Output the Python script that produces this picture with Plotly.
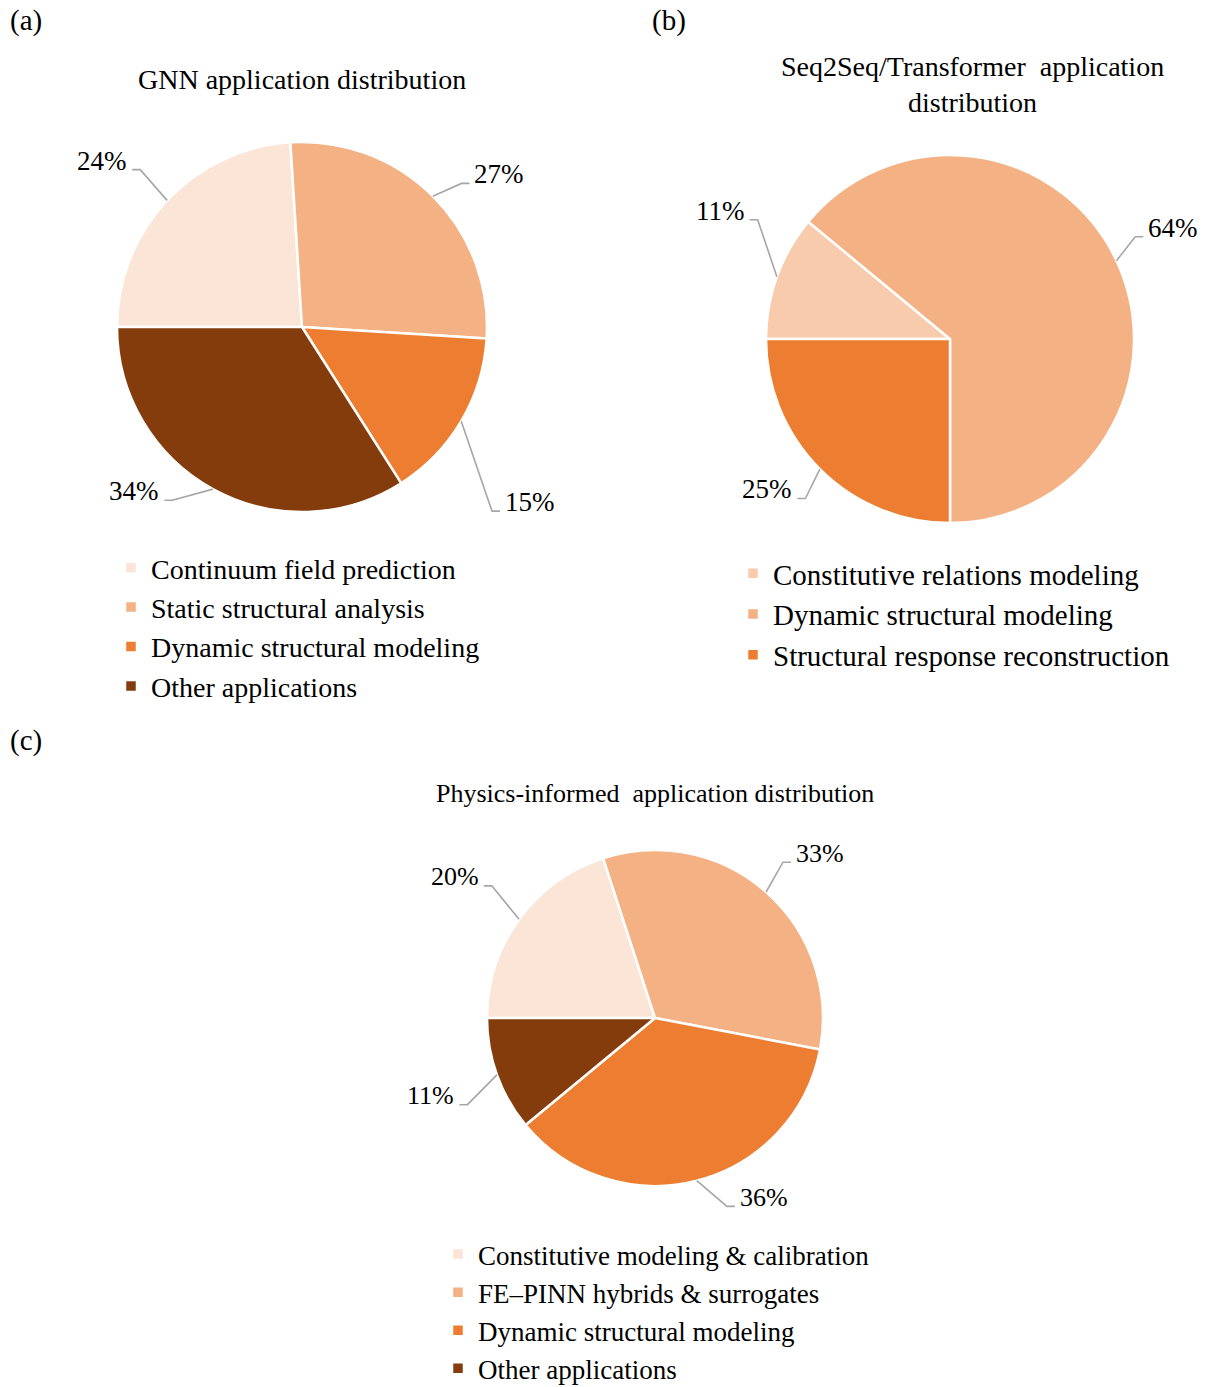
import math
import plotly.graph_objects as go

W, H = 1205, 1387
FONT = "Liberation Serif, Times New Roman, serif"

# ---------------- data ----------------
gnn_labels = ["Continuum field prediction", "Static structural analysis",
              "Dynamic structural modeling", "Other applications"]
gnn_values = [24, 27, 15, 34]

seq_labels = ["Constitutive relations modeling", "Dynamic structural modeling",
              "Structural response reconstruction"]
seq_values = [11, 64, 25]

pinn_labels = ["Constitutive modeling & calibration", "FE\u2013PINN hybrids & surrogates",
               "Dynamic structural modeling", "Other applications"]
pinn_values = [20, 33, 36, 11]

titles = ["GNN application distribution",
          "Seq2Seq/Transformer  application<br>distribution",
          "Physics-informed  application distribution"]
panel_tags = ["(a)", "(b)", "(c)"]

# ---------------- styles ----------------
col4 = ["#FBE5D6", "#F4B183", "#ED7D31", "#843C0C"]
col3 = ["#F8CBAD", "#F4B183", "#ED7D31"]

panels = [
    dict(labels=gnn_labels, values=gnn_values, colors=col4, cx=302, cy=327, r=185,
         elbow=[(1, 1.22), (3, 1.16), (13.5, 1.43), (8, 1.17)],
         lab_font=27, legend="legend", group="ga", leg_x=111, leg_y=543, leg_font=28,
         title_x=302, title_y=79, title_font=28, tag_x=8, tag_y=20),
    dict(labels=seq_labels, values=seq_values, colors=col3, cx=950, cy=339, r=184,
         elbow=[(12, 1.23), (-3.7, 1.15), (-2.8, 1.17)],
         lab_font=27, legend="legend2", group="gb", leg_x=733, leg_y=548, leg_font=29,
         title_x=972, title_y=84, title_font=28, tag_x=650, tag_y=20),
    dict(labels=pinn_labels, values=pinn_values, colors=col4, cx=655, cy=1018, r=168,
         elbow=[(3, 1.25), (-2, 1.2), (-6.5, 1.2), (-5, 1.23)],
         lab_font=26, legend="legend3", group="gc", leg_x=438, leg_y=1230, leg_font=27,
         title_x=655, title_y=793, title_font=26, tag_x=8, tag_y=740),
]

START = 270  # first slice starts at 9 o'clock, clockwise

def px(x):
    return x / W

def py(y):
    return 1 - y / H

fig = go.Figure()
annotations = []
shapes = []

for i, p in enumerate(panels):
    cx, cy, r = p["cx"], p["cy"], p["r"]
    fig.add_trace(go.Pie(
        labels=p["labels"], values=p["values"], sort=False, direction="clockwise",
        rotation=START, textinfo="none", hoverinfo="label+percent",
        marker=dict(colors=p["colors"], line=dict(color="white", width=2.5)),
        domain=dict(x=[px(cx - r), px(cx + r)], y=[py(cy + r), py(cy - r)]),
        legend=p["legend"], legendgroup=p["group"], showlegend=True,
    ))

    total = sum(p["values"])
    acc = 0.0
    for v, (da, f) in zip(p["values"], p["elbow"]):
        mid = START + (acc + v / 2) / total * 360
        acc += v
        a = math.radians(mid)
        sx, sy = cx + r * math.sin(a), cy - r * math.cos(a)
        a2 = math.radians(mid + da)
        ex, ey = cx + f * r * math.sin(a2), cy - f * r * math.cos(a2)
        side = 1 if ex > cx else -1
        hx = ex + side * 8
        shapes.append(dict(
            type="path", xref="paper", yref="paper",
            path=f"M {px(sx)},{py(sy)} L {px(ex)},{py(ey)} L {px(hx)},{py(ey)}",
            line=dict(color="#A6A6A6", width=1.6)))
        annotations.append(dict(
            x=px(hx + side * 3), y=py(ey - 9), xref="paper", yref="paper",
            text=f"{v}%", showarrow=False,
            xanchor="left" if side > 0 else "right", yanchor="middle",
            font=dict(family=FONT, size=p["lab_font"], color="black")))

    annotations.append(dict(
        x=px(p["title_x"]), y=py(p["title_y"]), xref="paper", yref="paper",
        text=titles[i], showarrow=False, xanchor="center", yanchor="middle",
        font=dict(family=FONT, size=p["title_font"], color="black")))
    annotations.append(dict(
        x=px(p["tag_x"]), y=py(p["tag_y"]), xref="paper", yref="paper",
        text=panel_tags[i], showarrow=False, xanchor="left", yanchor="middle",
        font=dict(family=FONT, size=29, color="black")))

legend_layout = {}
for p in panels:
    legend_layout[p["legend"]] = dict(
        x=px(p["leg_x"]), y=py(p["leg_y"]), xanchor="left", yanchor="top",
        orientation="v", bgcolor="rgba(0,0,0,0)", borderwidth=0,
        font=dict(family=FONT, size=p["leg_font"], color="black"),
        itemclick=False, itemdoubleclick=False)

fig.update_layout(
    width=W, height=H, margin=dict(l=0, r=0, t=0, b=0, autoexpand=False),
    paper_bgcolor="white", plot_bgcolor="white",
    font=dict(family=FONT, color="black"),
    annotations=annotations, shapes=shapes,
    **legend_layout,
)

fig.write_html("out.html")
